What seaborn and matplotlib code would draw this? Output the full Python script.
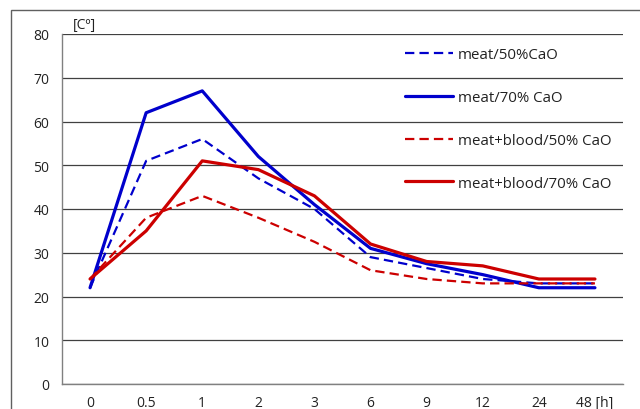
import numpy as np
import pandas as pd
import matplotlib
matplotlib.use("Agg")
import matplotlib.pyplot as plt
import seaborn as sns
from matplotlib.patches import Rectangle

# time points (hours) and temperatures
hours = ["0", "0.5", "1", "2", "3", "6", "9", "12", "24", "48 [h]"]
meat_50 = [22, 51, 56, 47, 40, 29, 26.5, 24, 23, 23]
meat_70 = [22, 62, 67, 52, 41, 31, 27.5, 25, 22, 22]
blood_50 = [24, 38, 43, 38, 32.5, 26, 24, 23, 23, 23]
blood_70 = [24, 35, 51, 49, 43, 32, 28, 27, 24, 24]

labels = ["meat/50%CaO", "meat/70% CaO", "meat+blood/50% CaO", "meat+blood/70% CaO"]
series = [meat_50, meat_70, blood_50, blood_70]

blue = "#0000CC"
red = "#CC0000"
styles = [
    dict(color=blue, linestyle=(0, (4.2, 2.3)), linewidth=1.6),
    dict(color=blue, linestyle="-", linewidth=2.3),
    dict(color=red, linestyle=(0, (4.2, 2.3)), linewidth=1.6),
    dict(color=red, linestyle="-", linewidth=2.3),
]

sns.set_style("white")
plt.rcParams["font.family"] = ["Open Sans", "DejaVu Sans"]

fig = plt.figure(figsize=(6.4, 4.1), dpi=100)
ax = fig.add_axes([62 / 640, 1 - 385 / 410, 561 / 640, 350 / 410])

# outer chart frame (cropped on the right and bottom)
fig.patches.append(Rectangle((11 / 640, -0.1), 1.2, 1 - 11 / 410 + 0.1,
                             transform=fig.transFigure, fill=False,
                             edgecolor="#606060", linewidth=1.0))

x = np.arange(len(hours))
for vals, lab, st in zip(series, labels, styles):
    df = pd.DataFrame({"t": x, "temp": vals})
    sns.lineplot(data=df, x="t", y="temp", ax=ax, label=lab,
                 solid_joinstyle="round", dash_capstyle="butt", **st)

ax.set_xlim(-0.5, len(hours) - 0.5)
ax.set_ylim(0, 80)
ax.set_yticks(range(0, 81, 10))
ax.set_xticks(x)
ax.set_xticklabels(hours)
ax.set_xticks(np.arange(-0.5, len(hours), 1), minor=True)
ax.tick_params(axis="x", which="major", length=0, pad=8, labelsize=10, colors="#222222")
ax.tick_params(axis="x", which="minor", length=4, width=1, color="#808080", direction="out")
ax.tick_params(axis="y", length=5, width=1, color="#808080", direction="out", pad=4,
               labelsize=10, labelcolor="#222222")
ax.set_xlabel("")
ax.set_ylabel("")

ax.grid(axis="y", color="#404040", linewidth=0.9)
ax.set_axisbelow(True)
for s in ["top", "right"]:
    ax.spines[s].set_visible(False)
for s in ["left", "bottom"]:
    ax.spines[s].set_color("#808080")
    ax.spines[s].set_linewidth(1.0)

fig.text(73 / 640, 1 - 25 / 410, "[Cº]", fontsize=10, va="center", ha="left", color="#222222")

ax.legend(loc="upper left", bbox_to_anchor=(0.611, 0.962), frameon=False,
          fontsize=10.8, handlelength=3.2, handletextpad=0.33, labelspacing=1.85,
          borderpad=0, borderaxespad=0, labelcolor="#222222")

fig.savefig("out.png", dpi=100)
